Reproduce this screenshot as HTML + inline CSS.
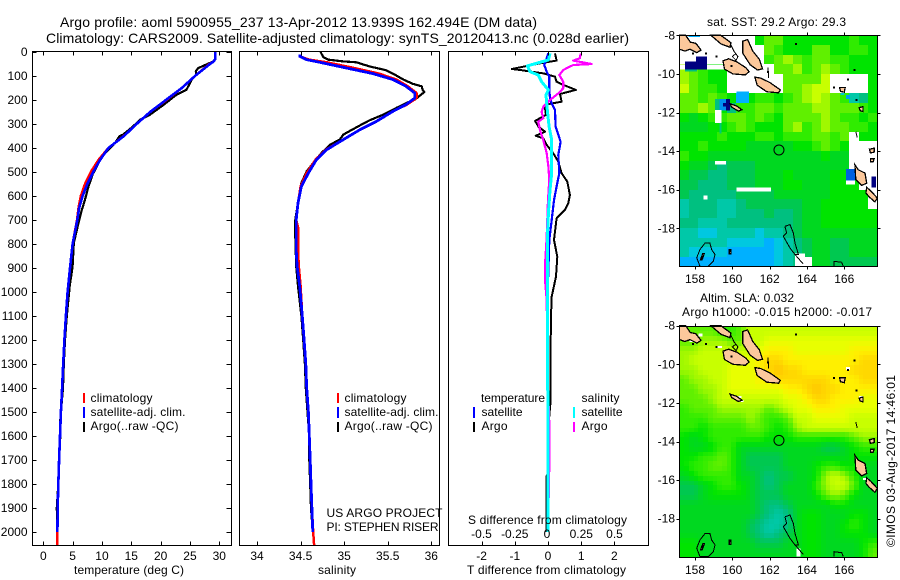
<!DOCTYPE html>
<html lang="en">
<head>
<meta charset="utf-8">
<title>Argo profile 5900955_237</title>
<style>
html,body{margin:0;padding:0;background:#fff;}
svg{display:block;}
text{font-family:"Liberation Sans",sans-serif;fill:#000;font-size:12px;}
.t14{font-size:14px;}
.crisp{shape-rendering:crispEdges;}
</style>
</head>
<body>
<svg id="fig" xmlns="http://www.w3.org/2000/svg" width="900" height="580" viewBox="0 0 900 580">
<rect x="0" y="0" width="900" height="580" fill="#fff"/>
<text class="t14" x="60" y="27" textLength="477" lengthAdjust="spacing">Argo profile: aoml 5900955_237 13-Apr-2012 13.939S 162.494E (DM data)</text>
<text class="t14" x="46" y="43" textLength="583" lengthAdjust="spacing">Climatology: CARS2009. Satellite-adjusted climatology: synTS_20120413.nc (0.028d earlier)</text>

<g id="temp-plot"></g>
<g id="sal-plot"></g>
<g id="diff-plot"></g>
<g id="sst-map"></g>
<g id="sla-map"></g>

<text x="74" y="574" textLength="110" lengthAdjust="spacing">temperature (deg C)</text>
<text x="318" y="574" textLength="38" lengthAdjust="spacing">salinity</text>
<text x="467" y="574" textLength="159" lengthAdjust="spacing">T difference from climatology</text>
<text x="468" y="524" textLength="159" lengthAdjust="spacing">S difference from climatology</text>

<g>
<rect class="crisp" x="83" y="393" width="2" height="10" fill="#f00"/>
<rect class="crisp" x="83" y="407" width="2" height="11" fill="#00f"/>
<rect class="crisp" x="83" y="422" width="2" height="10" fill="#000"/>
<text x="90.5" y="402" textLength="62" lengthAdjust="spacing">climatology</text>
<text x="90.5" y="416" textLength="95" lengthAdjust="spacing">satellite-adj. clim.</text>
<text x="90.5" y="430" textLength="88" lengthAdjust="spacing">Argo(..raw -QC)</text>
</g>
<g>
<rect class="crisp" x="337" y="393" width="2" height="10" fill="#f00"/>
<rect class="crisp" x="337" y="407" width="2" height="11" fill="#00f"/>
<rect class="crisp" x="337" y="422" width="2" height="10" fill="#000"/>
<text x="344.5" y="402" textLength="62" lengthAdjust="spacing">climatology</text>
<text x="344.5" y="416" textLength="94" lengthAdjust="spacing">satellite-adj. clim.</text>
<text x="344.5" y="430" textLength="88" lengthAdjust="spacing">Argo(..raw -QC)</text>
</g>
<text x="326.5" y="517" textLength="116" lengthAdjust="spacing">US ARGO PROJECT</text>
<text x="326.5" y="531" textLength="112" lengthAdjust="spacing">PI: STEPHEN RISER</text>

<g>
<text x="481" y="402" textLength="64" lengthAdjust="spacing">temperature</text>
<text x="581.5" y="402" textLength="38" lengthAdjust="spacing">salinity</text>
<rect class="crisp" x="473" y="407" width="2" height="11" fill="#00f"/>
<rect class="crisp" x="473" y="422" width="2" height="10" fill="#000"/>
<rect class="crisp" x="573" y="407" width="2" height="11" fill="#0ff"/>
<rect class="crisp" x="573" y="422" width="2" height="10" fill="#f0f"/>
<text x="481.5" y="416" textLength="41" lengthAdjust="spacing">satellite</text>
<text x="481.5" y="430" textLength="26" lengthAdjust="spacing">Argo</text>
<text x="581.5" y="416" textLength="41" lengthAdjust="spacing">satellite</text>
<text x="581.5" y="430" textLength="26" lengthAdjust="spacing">Argo</text>
</g>

<text x="707" y="26" textLength="139" lengthAdjust="spacing">sat. SST: 29.2 Argo: 29.3</text>
<text x="700" y="302" textLength="94" lengthAdjust="spacing">Altim. SLA: 0.032</text>
<text x="682" y="316" textLength="190" lengthAdjust="spacing">Argo h1000: -0.015 h2000: -0.017</text>
<text transform="translate(895,547) rotate(-90)" x="0" y="0" textLength="172" lengthAdjust="spacing">©IMOS 03-Aug-2017 14:46:01</text>
</svg>

<script>
// ---- Profile data ----
const depthTicks = [0,100,200,300,400,500,600,700,800,900,1000,1100,1200,1300,1400,1500,1600,1700,1800,1900,2000];
const tempTicks = [0,5,10,15,20,25,30];
const salTicks = [34,34.5,35,35.5,36];
const salTickLabels = ['34','34.5','35','35.5','36'];
const dTTicks = [-2,-1,0,1,2];
const dSTicks = [-0.5,-0.25,0,0.25,0.5];
const dSTickLabels = ['-0.5','-0.25','0','0.25','0.5'];
const lonTicks = [158,160,162,164,166];
const latTicks = [-8,-10,-12,-14,-16,-18];

const clim_depths = [0,30,40,50,100,150,200,250,300,350,400,450,500,550,600,650,700,800,900,1000,1100,1200,1300,1400,1500,1600,1700,1800,1900,2000,2054];
const sat_depths = [0,30,40,50,100,150,200,250,300,350,400,450,500,550,600,650,700,800,900,1000,1100,1200,1300,1400,1500,1600,1700,1800,1900,2000];
const tClim = [29.3,29.3,29.0,28.3,25.85,23.6,21,18.2,15.9,13.7,11.1,9.4,8.1,7.1,6.4,6,5.75,5.0,4.55,4.15,3.85,3.6,3.4,3.2,3,2.85,2.7,2.55,2.45,2.4,2.4];
const tSat = [29.3,29.3,29.0,28.4,25.85,23.6,20.9,18.2,15.9,13.75,11.1,9.66,8.5,7.5,6.7,6.1,5.8,5.0,4.55,4.15,3.85,3.6,3.4,3.2,3.0,2.85,2.7,2.55,2.45,2.4];
const tArgoDepths = [0,30,39,67,80,94,115,157,178,220,261,282,310,344,351,379,400,428,463,511,560,615,664,712,796,893,976,1100,1200,1300,1400,1500,1550,1600,1700,1800,1900,1950,2000];
const tArgo = [29.3,29.3,29,26.4,26,26.1,25.3,24.4,22.7,20.5,18.2,16.5,15.3,13.6,13,12.2,11.4,10.2,9.4,8.4,7.7,7.1,6.5,6,5.2,5,4.5,4.0,3.7,3.5,3.35,3.0,2.85,2.9,2.7,2.55,2.3,2.35,2.35];

const salClimDepths = [10,18,32,43,67,90,115,143,171,192,219,247,289,324,365,407,449,504,560,629,699,730,824,893,976,1100,1200,1300,1400,1500,1600,1700,1800,1900,2000,2054];
const sClim = [34.49,34.49,34.6,34.8,35.12,35.4,35.6,35.73,35.83,35.83,35.72,35.56,35.37,35.18,34.99,34.79,34.67,34.57,34.5,34.47,34.45,34.47,34.47,34.48,34.5,34.52,34.54,34.56,34.57,34.59,34.6,34.61,34.62,34.63,34.645,34.655];
const salSatDepths = [10,18,32,43,67,90,115,143,171,192,219,247,289,324,365,407,449,504,560,629,699,824,893,976,1100,1200,1300,1400,1500,1600,1700,1800,1900,2000];
const sSat = [34.49,34.49,34.57,34.72,35.03,35.33,35.56,35.71,35.81,35.81,35.71,35.56,35.37,35.18,34.99,34.8,34.68,34.59,34.51,34.47,34.45,34.45,34.46,34.49,34.52,34.54,34.56,34.57,34.59,34.6,34.61,34.62,34.63,34.64];
const salArgoDepths = [0,21,32,39,43,60,76,94,115,133,143,157,167,199,210,233,261,285,310,330,344,365,386,421,456,497,546,629,699,768,893,976,1100,1200,1300,1400,1500,1600,1700,1800,1900,2000];
const sArgo = [34.73,34.76,34.82,34.99,35.14,35.29,35.48,35.58,35.68,35.79,35.89,35.9,35.92,35.81,35.73,35.6,35.45,35.29,35.16,35.06,34.99,34.95,34.84,34.74,34.66,34.57,34.51,34.47,34.44,34.44,34.45,34.47,34.51,34.53,34.55,34.56,34.58,34.6,34.6,34.61,34.62,34.64];

const dtArgoDepths = [6,36,47,71,75,89,103,124,137,158,175,207,217,235,262,287,311,332,349,360,387,422,457,505,540,596,630,658,693,783,853,936,1019,1100,1200,1300,1450,1530,1750,1770,2000];
const dtArgo = [0.21,0.26,-0.24,-1.09,-0.84,-0.14,0.21,0.26,0.46,0.84,0.36,0.41,0.01,-0.09,-0.06,-0.39,-0.29,-0.09,-0.37,-0.14,-0.04,0.16,0.31,0.41,0.58,0.66,0.61,0.51,0.26,0.18,0.28,0.24,0.11,0.09,0.08,0.07,0.08,0.03,0.02,-0.05,-0.05];
const dtSatDepths = [6,26,54,82,103,158,193,214,242,311,374,429,505,561,617,700,783,922,1033,1400,2000];
const dtSat = [0.01,-0.04,-0.11,-0.04,0.04,0.04,0.06,0.11,0.21,0.23,0.38,0.31,0.34,0.26,0.18,0.11,0.04,0.01,-0.02,0,0];
const dsArgoDepths = [6,26,36,50,54,64,75,96,124,151,172,200,228,249,276,290,325,367,422,478,533,617,769,867,964,1033,1400,1550,1720,2000];
const dsArgo = [0.245,0.24,0.19,0.328,0.19,0.153,0.115,0.085,0.115,0.115,0.078,0.015,-0.035,-0.048,-0.035,-0.073,-0.06,-0.035,-0.01,0.003,0.01,0,-0.01,-0.02,-0.02,-0.01,0,0.01,0.01,0];
const dsSatDepths = [6,33,58,82,96,124,158,179,242,311,367,422,505,575,672,783,1033,2000];
const dsSat = [0.015,0.003,-0.155,-0.135,-0.073,-0.048,0.003,-0.015,-0.005,0.008,0.028,0.028,0.028,0.015,0.003,-0.005,-0.003,0];

// ---- Map grids: colour level per 0.5 degree cell, -1 = no data ----
const colorStops = ['#00b0ff','#00c8e0','#00c8a8','#00c080','#00c850','#00d820','#00e400','#30ec00','#60f000','#a0f800','#c8ff00','#e8ff00','#fff000','#ffd800','#ffc400'];
const sstGrid = [
[-1,-1,-1,-1,-1,-1,-1,-1,6,8,8,6,6,6,6,6,6,6,7,6,6],
[-1,-1,-1,-1,-1,-1,-1,-1,-1,8,7,6,6,6,8,8,6,6,7,7,6],
[-1,-1,-1,-1,-1,-1,-1,-1,-1,7,8,9,8,7,8,8,7,7,6,6,6],
[9,8,7,6,6,-1,-1,-1,-1,-1,8,8,9,7,8,9,8,7,6,6,6],
[9,8,7,6,6,-1,-1,-1,-1,-1,-1,8,8,8,8,10,-1,-1,-1,-1,6],
[10,8,7,7,6,-1,-1,-1,-1,-1,-1,8,8,9,10,10,-1,-1,-1,-1,6],
[8,8,7,8,7,6,0,6,7,7,6,7,8,9,10,9,8,7,2,3,6],
[8,8,9,8,6,3,7,7,8,8,7,8,8,8,9,9,8,8,8,7,6],
[6,5,6,7,7,8,8,7,8,7,6,8,8,8,8,9,8,7,7,6,7],
[5,5,5,6,6,7,8,7,6,6,6,8,9,7,8,9,8,8,7,7,6],
[6,6,6,6,7,6,6,6,7,7,6,7,7,7,8,8,7,8,-1,6,6],
[6,6,7,6,6,6,6,5,5,5,5,5,6,6,7,8,7,6,-1,-1,-1],
[7,6,6,5,5,5,5,5,5,5,5,5,5,5,5,6,5,5,-1,-1,-1],
[6,5,5,4,3,4,4,4,5,5,5,5,5,5,5,5,5,5,-1,-1,-1],
[5,4,4,3,3,4,4,4,5,5,5,6,5,5,5,5,6,6,5,-1,-1],
[4,4,3,3,3,4,4,4,5,5,5,6,6,5,5,5,6,6,6,-1,-1],
[4,3,3,3,3,3,4,4,4,4,5,5,5,5,5,5,6,6,6,6,-1],
[2,3,3,3,2,2,3,4,4,4,4,4,4,5,5,6,6,6,6,6,-1],
[2,3,3,3,2,2,3,3,3,4,3,3,4,5,5,6,6,6,6,6,6],
[3,3,2,2,2,3,3,3,3,3,3,3,4,5,5,6,6,6,6,6,6],
[2,2,1,1,2,2,2,2,1,2,2,3,4,5,5,5,5,5,5,5,5],
[2,2,2,2,2,1,1,1,1,0,1,2,3,4,5,5,4,4,5,5,5],
[2,1,1,1,1,0,0,0,0,0,1,2,3,4,5,5,4,4,5,5,5],
[0,0,0,0,0,0,0,0,0,0,1,2,3,-1,5,5,4,4,4,4,4]
];
const slaGrid = [
[8,8,8,8,7,7,8,10,10,10,10,10,10,10,10,10,10,10,10,10,10],
[8,8,9,9,9,8,8,10,10,11,11,11,11,11,11,11,11,11,11,11,11],
[9,9,10,10,10,10,10,10,11,12,12,12,11,11,11,11,11,11,12,12,12],
[9,10,10,10,10,10,11,11,12,13,13,12,12,12,12,12,12,12,12,13,13],
[9,9,10,10,10,11,11,11,12,13,14,13,13,12,12,12,12,12,13,13,13],
[8,9,9,10,10,11,11,11,12,12,13,13,13,13,13,13,12,12,12,13,13],
[8,8,9,9,10,11,11,11,11,11,11,12,12,13,14,13,13,12,12,12,12],
[8,8,8,9,10,10,10,10,10,10,10,11,11,12,13,13,12,12,12,11,11],
[7,8,8,8,9,9,9,9,9,8,9,10,11,11,12,12,12,11,11,11,11],
[7,7,7,8,8,8,8,9,8,7,7,8,10,10,11,11,11,11,10,10,10],
[7,7,6,7,7,7,7,8,8,7,6,7,9,10,10,10,10,10,10,10,10],
[6,5,6,7,7,7,7,7,7,6,6,6,7,7,7,7,7,7,8,9,9],
[6,5,5,6,7,7,5,5,5,5,5,5,5,5,5,4,4,5,6,7,7],
[6,6,7,7,8,7,5,4,4,4,4,5,5,5,5,5,5,5,6,6,6],
[6,7,7,8,8,7,5,4,4,4,4,5,5,5,6,7,7,6,6,5,5],
[5,6,7,7,7,7,5,5,4,3,4,4,5,5,6,9,10,9,7,5,5],
[4,4,5,6,7,7,6,5,4,3,4,5,5,5,7,9,10,10,8,5,5],
[4,4,5,6,6,6,6,5,4,4,4,5,5,5,6,8,9,8,6,5,5],
[5,5,5,5,5,5,5,5,4,3,3,4,5,5,5,5,6,6,5,5,5],
[5,5,5,5,5,5,5,5,4,3,2,3,5,6,6,5,5,5,6,6,5],
[5,5,5,5,5,5,5,4,3,2,2,3,5,6,6,5,5,6,7,6,5],
[5,5,5,5,5,5,5,4,3,2,3,4,5,6,6,5,5,6,6,6,5],
[6,6,5,5,5,5,5,5,4,4,4,5,5,6,6,5,5,5,5,6,7],
[6,6,5,5,5,5,5,5,5,5,5,5,5,6,6,5,5,5,5,6,8]
];
// [lonW, lonE, latN, latS, colour]
const sstPatches = [
[157.1,160.0,-9.5,-9.76,'#fff'],
[157.46,158.63,-9.36,-9.76,'#000080'],
[158.05,158.63,-9.1,-9.36,'#000080'],
[157.46,158.1,-9.76,-9.88,'#00c080'],
[157.64,158.27,-8,-8.1,'#00b0ff'],
[159.07,159.3,-11.3,-11.86,'#00c080'],
[159.3,159.66,-11.3,-11.9,'#0090f0'],
[159.66,159.88,-11.3,-11.9,'#000080'],
[159.5,159.7,-11.5,-11.7,'#000080'],
[160.23,160.9,-10.91,-11.52,'#00b0ff'],
[159.07,159.43,-11.86,-12.55,'#fff'],
[159.3,159.43,-12.55,-13.1,'#00c878'],
[159.07,159.66,-14.5,-14.7,'#fff'],
[160.23,162.07,-15.88,-16.09,'#fff'],
[158.45,158.66,-16.3,-16.52,'#fff'],
[166.09,166.57,-14.93,-15.52,'#0060e0'],
[166.09,166.57,-15.52,-15.72,'#fff'],
[167.46,167.7,-15.31,-15.88,'#000080'],
[165.8,166.0,-11.0,-11.1,'#00c8d0'],
[166.1,166.3,-11.1,-11.3,'#00a0f0'],
[163.36,163.9,-19.3,-20,'#fff']
];
const slaPatches = [
[157.7,157.95,-8.75,-8.85,'#fff'],
[158.2,158.4,-8.4,-8.55,'#fff'],
[159.2,159.45,-9.05,-9.15,'#fff'],
[160.3,160.5,-11.65,-11.75,'#fff'],
[160.45,160.6,-11.85,-11.95,'#fff'],
[166.1,166.3,-10.15,-10.3,'#fff'],
[165.75,166.0,-10.65,-10.85,'#fff'],
[166.8,167.0,-11.65,-11.8,'#fff'],
[167.0,167.3,-15.9,-16.0,'#fff'],
[163.45,163.65,-19.55,-19.95,'#fff']
];
const landIslands = [
[157.16,-8.0, 157.5,-8.0, 157.75,-8.35, 158.05,-8.42, 158.32,-8.76, 158.1,-8.9, 157.73,-8.72, 157.46,-8.82, 157.16,-8.72],
[158.85,-8, 159.38,-8, 159.92,-8.38, 159.88,-8.62, 159.4,-8.45],
[159.5,-9.32, 159.8,-9.22, 160.25,-9.38, 160.72,-9.68, 160.9,-9.88, 160.7,-10.05, 160.03,-10.0, 159.58,-9.75],
[160.56,-8.3, 160.82,-8.22, 161.1,-8.82, 161.45,-9.25, 161.62,-9.74, 161.35,-9.8, 160.96,-9.53, 160.56,-8.93],
[161.21,-10.17, 161.52,-10.22, 162.02,-10.45, 162.57,-10.83, 162.48,-10.98, 161.85,-10.93, 161.33,-10.58],
[159.88,-11.55, 160.23,-11.66, 160.52,-11.86, 160.32,-11.93, 159.96,-11.72],
[166.57,-14.71, 166.75,-14.97, 167.11,-15.14, 167.2,-15.66, 166.93,-15.78, 166.62,-15.48],
[167.2,-15.88, 167.42,-16.06, 167.77,-16.43, 167.64,-16.63, 167.34,-16.38, 167.16,-16.17],
[165.75,-10.7, 166.05,-10.7, 166,-10.95, 165.8,-10.9],
[166.8,-11.75, 167.0,-11.7, 167.0,-11.95, 166.85,-11.9],
[167.35,-13.9, 167.6,-13.85, 167.6,-14.05, 167.4,-14.1],
[167.4,-14.4, 167.6,-14.4, 167.55,-14.55, 167.4,-14.55],
[159.83,-19.1, 159.92,-19.1, 159.93,-19.32, 159.83,-19.32],
[158.42,-19.3, 158.5,-19.3, 158.38,-19.62, 158.3,-19.62]
];
const reefOutlines = [
[158.54,-18.76, 158.8,-18.76, 158.89,-19.1, 159.07,-19.36, 158.98,-19.71, 158.71,-19.97, 158.27,-19.97, 158.09,-19.53, 158.27,-19.1, 158.54,-18.76],
[162.82,-17.9, 163.09,-17.81, 163.27,-18.24, 163.36,-18.76, 163.54,-19.36, 163.36,-19.36, 163.09,-19.02, 162.73,-18.41, 162.91,-18.24, 162.82,-17.9],
[163.36,-19.36, 163.8,-19.85],
[165.45,-19.97, 165.45,-19.71, 165.86,-19.76, 165.95,-19.97],
[159.88,-8.41, 160.1,-8.85, 160.3,-9.1, 160.2,-9.3, 160,-9.1, 160.2,-8.95],
[161.9,-9.66, 161.95,-10.22],
[166.62,-13.0, 166.7,-13.3]
];
const reefDots = [[159.16,-9.1],[161.9,-9.9],[157.9,-8.95],[158.6,-8.95],[159.95,-9.6],[166.2,-10.3],[166.55,-9.8],[166.65,-11.35],[163.4,-8.45],[165.45,-10.7]];

// ---- Axis functions ----
const yDepth = d => 52 + 0.24 * d;
const xTemp = t => 43.3 + 5.867 * t;
const xSal = s => 257 + 87.15 * (s - 34);
const xDT = t => 548 + 33.2 * t;
const xDS = s => 548 + 133 * s;
const xLon = lon => 695 + 18.66 * (lon - 158);
const SVGNS = 'http://www.w3.org/2000/svg';
function mk(tag, attrs, parent) {
  const el = document.createElementNS(SVGNS, tag);
  for (const k in attrs) el.setAttribute(k, attrs[k]);
  parent.appendChild(el);
  return el;
}
function frame(parent, x0, x1, y0, y1) {
  const el = mk('rect', {x:x0, y:y0, width:x1-x0, height:y1-y0, fill:'none', stroke:'#000', 'stroke-width':1, class:'crisp'}, parent);
  
  
}
function tick(parent, x1, y1, x2, y2) {
  const el = mk('line', {x1:x1, y1:y1, x2:x2, y2:y2, stroke:'#000', 'stroke-width':1, class:'crisp'}, parent);
  
  
}
function label(parent, x, y, str, anchor) {
  const el = mk('text', {x:x, y:y, 'text-anchor':anchor}, parent);
  el.textContent = str;
  
  
}
function series(parent, name, depths, values, xf, color, width) {
  const pts = depths.map((d, i) => xf(values[i]).toFixed(1) + ',' + yDepth(d).toFixed(1)).join(' ');
  const el = mk('polyline', {points:pts, fill:'none', stroke:color, 'stroke-width':width, 'stroke-linejoin':'round', class:'crisp'}, parent);
  
  
}
const TOP = 51.5, BOT = 545.5;

// ---- Temperature panel ----
const gT = document.getElementById('temp-plot');
series(gT, 'temperature-argo-line', tArgoDepths, tArgo, xTemp, '#000', 2.2);
series(gT, 'temperature-climatology-line', clim_depths, tClim, xTemp, '#f00', 2.5);
series(gT, 'temperature-satellite-line', sat_depths, tSat, xTemp, '#00f', 2.6);
frame(gT, 32.5, 231.5, TOP, BOT);
depthTicks.forEach(d => {
  const y = Math.round(yDepth(d)) + 0.5;
  tick(gT, 32.5, y, 36.5, y);
  tick(gT, 231.5, y, 226.5, y);
  label(gT, 27.5, yDepth(d) + 4, String(d), 'end');
});
tempTicks.forEach(t => {
  const x = Math.round(xTemp(t)) + 0.5;
  tick(gT, x, TOP, x, TOP + 4);
  tick(gT, x, BOT, x, BOT - 4);
  label(gT, xTemp(t), 560, String(t), 'middle');
});

// ---- Salinity panel ----
const gS = document.getElementById('sal-plot');
series(gS, 'salinity-argo-line', salArgoDepths, sArgo, xSal, '#000', 2.2);
series(gS, 'salinity-climatology-line', salClimDepths, sClim, xSal, '#f00', 2.5);
series(gS, 'salinity-satellite-line', salSatDepths, sSat, xSal, '#00f', 2.8);
frame(gS, 239.5, 439.5, TOP, BOT);
salTicks.forEach((s, i) => {
  const x = Math.round(xSal(s)) + 0.5;
  tick(gS, x, TOP, x, TOP + 4);
  tick(gS, x, BOT, x, BOT - 4);
  label(gS, xSal(s), 560, salTickLabels[i], 'middle');
});

// ---- Difference panel ----
const gD = document.getElementById('diff-plot');
series(gD, 't-difference-argo-line', dtArgoDepths, dtArgo, xDT, '#000', 2);
series(gD, 't-difference-satellite-line', dtSatDepths, dtSat, xDT, '#00f', 2.2);
series(gD, 's-difference-argo-line', dsArgoDepths, dsArgo, xDS, '#f0f', 2.2);
series(gD, 's-difference-satellite-line', dsSatDepths, dsSat, xDS, '#0ff', 3);
frame(gD, 448.5, 648.5, TOP, BOT);
dTTicks.forEach(t => {
  const x = Math.round(xDT(t)) + 0.5;
  tick(gD, x, TOP, x, TOP + 4);
  tick(gD, x, BOT, x, BOT - 4);
  label(gD, xDT(t), 560, String(t), 'middle');
});
dSTicks.forEach((s, i) => {
  label(gD, xDS(s) + (i === 2 ? -1 : 0), 538, dSTickLabels[i], 'middle');
});

// ---- Maps ----
function hexToRgb(h) {
  return [parseInt(h.slice(1,3),16), parseInt(h.slice(3,5),16), parseInt(h.slice(5,7),16)];
}
function levelColor(v) {
  const i = Math.max(0, Math.min(colorStops.length - 1.001, v));
  const a = Math.floor(i), f = i - a;
  const c0 = hexToRgb(colorStops[a]), c1 = hexToRgb(colorStops[a + 1]);
  return 'rgb(' + c0.map((c, k) => Math.round(c + (c1[k] - c) * f)).join(',') + ')';
}
function sampleSmooth(grid, r, c) {
  let v = (r + 0.5) / 2 - 0.5, u = (c + 0.5) / 2 - 0.5;
  v = Math.max(0, Math.min(grid.length - 1, v));
  u = Math.max(0, Math.min(grid[0].length - 1, u));
  const r0 = Math.floor(v), c0 = Math.floor(u);
  const r1 = Math.min(r0 + 1, grid.length - 1), c1 = Math.min(c0 + 1, grid[0].length - 1);
  const fr = v - r0, fc = u - c0;
  return (grid[r0][c0] * (1 - fc) + grid[r0][c1] * fc) * (1 - fr) + (grid[r1][c0] * (1 - fc) + grid[r1][c1] * fc) * fr;
}
function drawMap(parent, yTop, grid, patches, smooth) {
  const yLat = lat => yTop + 19.3 * (-8 - lat);
  const left = 679.5, right = 877.5, topY = Math.round(yTop) + 0.5, botY = Math.round(yTop + 231) + 0.5;
  const cellsG = mk('g', {class:'crisp'}, parent);
  
  
  const step = smooth ? 2 : 1;
  const nr = grid.length * step, nc = grid[0].length * step;
  for (let r = 0; r < nr; r++) {
    for (let c = 0; c < nc; c++) {
      const v = smooth ? sampleSmooth(grid, r, c) : grid[r][c];
      if (v < 0) continue;
      const x0 = Math.round(left + (right - left) * c / nc), x1 = Math.round(left + (right - left) * (c + 1) / nc);
      const y0 = Math.round(topY + (botY - topY) * r / nr), y1 = Math.round(topY + (botY - topY) * (r + 1) / nr);
      const cell = mk('rect', {x:x0, y:y0, width:x1-x0, height:y1-y0, fill:levelColor(v)}, cellsG);
      
      
    }
  }
  patches.forEach(p => {
    const patch = mk('rect', {x:xLon(p[0]), y:yLat(p[2]), width:xLon(p[1])-xLon(p[0]), height:yLat(p[3])-yLat(p[2]), fill:p[4], class:'crisp'}, parent);
    
    
  });
  const toPts = arr => {
    const out = [];
    for (let i = 0; i < arr.length; i += 2) out.push(Math.max(left, Math.min(right, xLon(arr[i]))).toFixed(1) + ',' + Math.min(botY, yLat(arr[i + 1])).toFixed(1));
    return out.join(' ');
  };
  landIslands.forEach(a => {
    const land = mk('polygon', {points:toPts(a), fill:'#fcc89b', stroke:'#000', 'stroke-width':1.3, class:'crisp'}, parent);
    
    
  });
  reefOutlines.forEach(a => {
    const reef = mk('polyline', {points:toPts(a), fill:'none', stroke:'#000', 'stroke-width':1, class:'crisp'}, parent);
    
    
  });
  reefDots.forEach(d => {
    const dot = mk('rect', {x:xLon(d[0]) - 1, y:yLat(d[1]) - 1, width:2, height:2, fill:'#000', class:'crisp'}, parent);
    
    
  });
  const mark = mk('circle', {cx:xLon(162.5), cy:yLat(-13.94), r:5, fill:'none', stroke:'#000', 'stroke-width':1}, parent);
  
  
  frame(parent, left, right, topY, botY);
  lonTicks.forEach(l => {
    const x = Math.round(xLon(l)) + 0.5;
    tick(parent, x, topY, x, topY - 3);
    tick(parent, x, botY, x, botY + 3);
    label(parent, xLon(l), botY + 16.5, String(l), 'middle');
  });
  latTicks.forEach(l => {
    const y = Math.round(yLat(l)) + 0.5;
    tick(parent, left, y, left - 3, y);
    tick(parent, right, y, right + 3, y);
    label(parent, 675, yLat(l) + 4, String(l), 'end');
  });
}
drawMap(document.getElementById('sst-map'), 35.3, sstGrid, sstPatches, false);
drawMap(document.getElementById('sla-map'), 325.7, slaGrid, slaPatches, true);
</script>
</body>
</html>
